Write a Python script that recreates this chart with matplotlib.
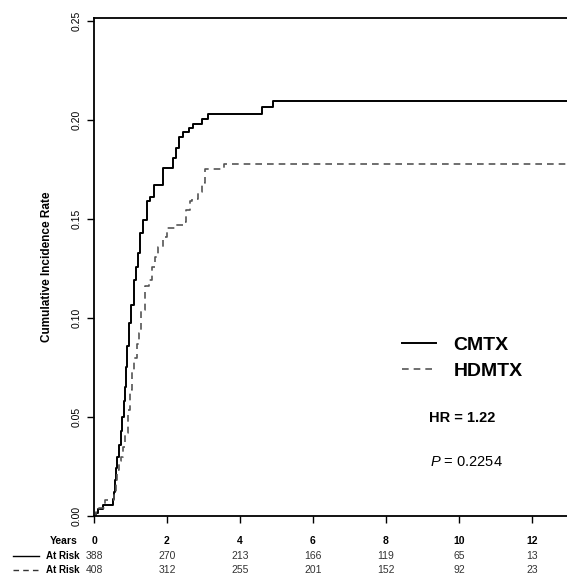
import matplotlib
matplotlib.use('Agg')
import matplotlib.pyplot as plt
from matplotlib.transforms import blended_transform_factory

plt.rcParams['font.family'] = ['Liberation Sans', 'DejaVu Sans']
plt.rcParams['mathtext.fontset'] = 'custom'
plt.rcParams['mathtext.it'] = 'Liberation Sans:italic'
plt.rcParams['mathtext.rm'] = 'Liberation Sans'

# step curves (years, cumulative incidence)
cmtx_t = [0, 0.05, 0.12, 0.25, 0.53, 0.55, 0.57, 0.61, 0.64, 0.68, 0.74, 0.78, 0.81, 0.84,
          0.87, 0.90, 0.95, 1.02, 1.10, 1.15, 1.20, 1.27, 1.35, 1.44, 1.53, 1.65, 1.88,
          2.17, 2.25, 2.33, 2.44, 2.60, 2.70, 2.95, 3.12, 4.60, 4.90, 13.5]
cmtx_v = [0, 0.0015, 0.0035, 0.0055, 0.0085, 0.012, 0.018, 0.024, 0.030, 0.036, 0.043, 0.050,
          0.058, 0.065, 0.075, 0.086, 0.0975, 0.1066, 0.119, 0.126, 0.133, 0.143, 0.1495,
          0.159, 0.161, 0.167, 0.1758, 0.181, 0.186, 0.1916, 0.194, 0.196, 0.198, 0.2005,
          0.203, 0.2067, 0.2096, 0.2096]

hdmtx_t = [0, 0.05, 0.15, 0.30, 0.55, 0.60, 0.63, 0.69, 0.75, 0.80, 0.85, 0.93, 1.00, 1.04,
           1.10, 1.17, 1.23, 1.30, 1.40, 1.50, 1.58, 1.67, 1.75, 1.90, 1.99, 2.22, 2.43,
           2.52, 2.63, 2.68, 2.85, 2.96, 3.04, 3.56, 13.5]
hdmtx_v = [0, 0.002, 0.004, 0.008, 0.012, 0.018, 0.023, 0.028, 0.030, 0.035, 0.042, 0.0535,
           0.0636, 0.0737, 0.080, 0.087, 0.0924, 0.104, 0.116, 0.119, 0.126, 0.131, 0.136,
           0.141, 0.1455, 0.147, 0.1486, 0.1545, 0.159, 0.160, 0.1638, 0.168, 0.175, 0.1778,
           0.1778]

years = [0, 2, 4, 6, 8, 10, 12]
risk_cmtx = [388, 270, 213, 166, 119, 65, 13]
risk_hdmtx = [408, 312, 255, 201, 152, 92, 23]

W, H = 567, 575
fig = plt.figure(figsize=(W / 100, H / 100), dpi=100)
ax = fig.add_axes([94 / W, 59 / H, 1 - 94 / W, 498 / H])

ax.step(cmtx_t, cmtx_v, where='post', color='black', lw=1.4, label='CMTX')
ax.step(hdmtx_t, hdmtx_v, where='post', color='#555555', lw=1.2, dashes=(4, 3),
        label='HDMTX')

ax.set_xlim(0, 12.96)
ax.set_ylim(0, 0.2515)
ax.set_xticks(years)
ax.set_xticklabels([])
ax.set_yticks([0, 0.05, 0.10, 0.15, 0.20, 0.25])
ax.set_yticklabels(['0.00', '0.05', '0.10', '0.15', '0.20', '0.25'], rotation=90,
                   va='center', fontsize=7.5)
ax.tick_params(length=5, width=1, direction='out', pad=4)
ax.spines['right'].set_visible(False)
for s in ['left', 'top', 'bottom']:
    ax.spines[s].set_linewidth(1.3)
ax.set_ylabel('Cumulative Incidence Rate', fontsize=8.5, fontweight='bold', labelpad=13)

ax.legend(loc='upper left', bbox_to_anchor=(0.651, 0.361), frameon=False,
          borderaxespad=0, borderpad=0, handlelength=1.75, handletextpad=0.9,
          labelspacing=0.45, prop={'weight': 'bold', 'size': 14})
ax.text(0.708, 0.196, 'HR = 1.22', transform=ax.transAxes, fontsize=10.5,
        fontweight='bold', va='center')
ax.text(0.71, 0.108, r'$\it{P}$ = 0.2254', transform=ax.transAxes, fontsize=10.5,
        va='center')

# numbers at risk table below the axis
tr = blended_transform_factory(ax.transData, fig.transFigure)
y_years, y_r1, y_r2 = 1 - 541 / H, 1 - 556 / H, 1 - 570 / H
for x, a, b in zip(years, risk_cmtx, risk_hdmtx):
    ax.text(x, y_years, str(x), transform=tr, ha='center', va='center', fontsize=7.5,
            fontweight='bold', clip_on=False)
    ax.text(x, y_r1, str(a), transform=tr, ha='center', va='center', fontsize=7.5,
            color='#333333', clip_on=False)
    ax.text(x, y_r2, str(b), transform=tr, ha='center', va='center', fontsize=7.5,
            color='#333333', clip_on=False)
fig.text(78 / W, y_years, 'Years', fontsize=7.5, fontweight='bold', ha='right',
         va='center')
fig.text(79 / W, y_r1, 'At Risk', fontsize=7, fontweight='bold', ha='right', va='center')
fig.text(79 / W, y_r2, 'At Risk', fontsize=7, fontweight='bold', ha='right', va='center')
fig.add_artist(plt.Line2D([13 / W, 39 / W], [y_r1] * 2, color='black', lw=1))
fig.add_artist(plt.Line2D([13 / W, 39 / W], [y_r2] * 2, color='#333333', lw=1,
                          dashes=(4, 3)))

fig.savefig('out.png', dpi=100)
